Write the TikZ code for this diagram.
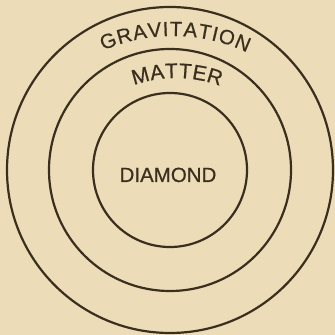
\documentclass[tikz,border=0pt]{standalone}
\usepackage{fontspec}
\setmainfont{Liberation Sans}[FakeBold=0.6]
\usetikzlibrary{decorations.text}
\definecolor{paper}{RGB}{236,221,184}
\definecolor{ink}{RGB}{58,46,30}
\tikzset{
  ring/.style={circle, draw=ink, line width=2.2pt, inner sep=0pt},
  arclabel/.style={decorate, decoration={text along path, text align={fit to path}, text color=ink, #1}}
}
\begin{document}
\begin{tikzpicture}[x=1pt,y=1pt]
\fill[paper] (0,0) rectangle (335,335);
\useasboundingbox (0,0) rectangle (335,335);
\coordinate (c) at (170,165);
\node[ring, minimum size=326pt] (outer) at (c) {};
\node[ring, minimum size=242pt] (middle) at (c) {};
\node[ring, minimum size=154pt] (inner) at (c) {};
\coordinate (gc) at (173,124);
\coordinate (mc) at (176,131);
\path[arclabel={text={|\fontsize{20.5}{20.5}\selectfont|GRAVITATION}}]
  ([shift={(113.5:175pt)}]gc) arc[start angle=113.5, end angle=65, radius=175pt];
\path[arclabel={text={|\fontsize{21}{21}\selectfont|MATTER}}]
  ([shift={(109.5:126pt)}]mc) arc[start angle=109.5, end angle=69.5, radius=126pt];
\node[anchor=base, text=ink, font=\fontsize{20.5}{20.5}\selectfont, inner sep=0pt] (diamond) at (168,153) {DIAMOND};
\end{tikzpicture}
\end{document}
